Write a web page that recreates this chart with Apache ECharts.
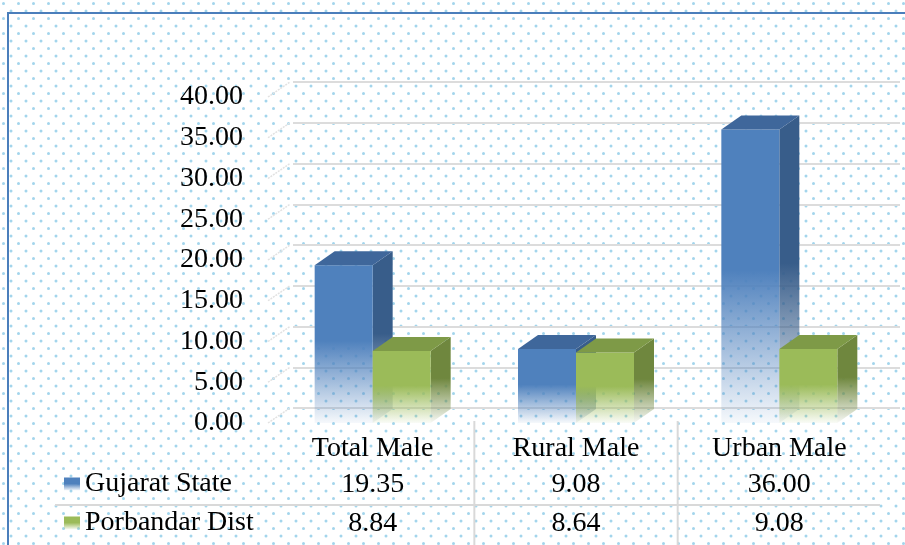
<!DOCTYPE html>
<html>
<head>
<meta charset="utf-8">
<script src="https://cdn.jsdelivr.net/npm/echarts@6/dist/echarts.min.js"></script>
<style>
  html, body { margin: 0; padding: 0; }
  #chart { width: 905px; height: 545px; }
</style>
</head>
<body>
<div id="chart"></div>
<script>
(function () {

    var categories = ['Total Male', 'Rural Male', 'Urban Male'];
    var seriesNames = ['Gujarat State', 'Porbandar Dist'];
    var gujarat = [19.35, 9.08, 36.00];
    var porbandar = [8.84, 8.64, 9.08];
    var yTicks = [0, 5, 10, 15, 20, 25, 30, 35, 40];

    var FONT = '"Liberation Serif", "Times New Roman", serif';
    var BAR_W = 58, DX = 20, DY = 14;

    // dotted background tile
    var tile = document.createElement('canvas');
    tile.width = 15; tile.height = 15;
    var ctx = tile.getContext('2d');
    ctx.fillStyle = '#ffffff';
    ctx.fillRect(0, 0, 15, 15);
    ctx.fillStyle = '#a3d5ec';
    [[3.5, 3.5], [11, 11]].forEach(function (p) {
        ctx.beginPath();
        ctx.arc(p[0], p[1], 1.5, 0, Math.PI * 2);
        ctx.fill();
    });

    function fade(color) {
        return new echarts.graphic.LinearGradient(0, 0, 0, 1, [
            { offset: 0, color: color },
            { offset: 0.48, color: color },
            { offset: 1, color: echarts.color.modifyAlpha(color, 0.05) }
        ]);
    }

    var blue = { front: '#4f81bd', side: '#385d8a', top: '#3f679b' };
    var green = { front: '#9bbb59', side: '#6f873e', top: '#7e9a47' };

    function bar3d(offset, c) {
        return function (params, api) {
            var i = api.value(0), v = api.value(1);
            var top = api.coord([i, v]);
            var base = api.coord([i, 0]);
            var x0 = top[0] + offset, x1 = x0 + BAR_W;
            var y0 = top[1], y1 = base[1];
            return {
                type: 'group',
                children: [
                    { type: 'polygon', shape: { points: [[x1, y0], [x1 + DX, y0 - DY], [x1 + DX, y1 - DY], [x1, y1]] },
                      style: { fill: fade(c.side) } },
                    { type: 'rect', shape: { x: x0, y: y0, width: BAR_W, height: y1 - y0 },
                      style: { fill: fade(c.front) } },
                    { type: 'polygon', shape: { points: [[x0, y0], [x0 + DX, y0 - DY], [x1 + DX, y0 - DY], [x1, y0]] },
                      style: { fill: c.top } }
                ]
            };
        };
    }

    function legendFor(name, top) {
        return {
            data: [name],
            left: 64,
            top: top,
            padding: 0,
            icon: 'rect',
            itemWidth: 16,
            itemHeight: 13,
            itemTextGap: 6,
            selectedMode: false,
            textStyle: { fontFamily: FONT, fontSize: 28, color: '#000', lineHeight: 28 }
        };
    }

    var option = {
        animation: false,
        graphic: [
            { type: 'rect', z: -10, silent: true, shape: { x: 0, y: 0, width: 905, height: 545 },
              style: { fill: { image: tile, repeat: 'repeat' } } },
            { type: 'rect', z: -9, shape: { x: 8, y: 13, width: 1000, height: 1000 },
              style: { fill: 'none', stroke: '#4a7ebb', lineWidth: 2 } },
            { type: 'line', shape: { x1: 55, y1: 505, x2: 880, y2: 505 },
              style: { stroke: '#d9d9d9', lineWidth: 2 } }
        ],
        legend: [legendFor(seriesNames[0], 470), legendFor(seriesNames[1], 509)],
        grid: [
            { left: 271, right: 24, top: 97, bottom: 122 },
            { left: 293, right: 5, top: 82, bottom: 137 }
        ],
        xAxis: [
            {
                type: 'category',
                gridIndex: 0,
                data: categories,
                axisLine: { show: false },
                axisTick: { show: false },
                axisLabel: { fontFamily: FONT, fontSize: 28, color: '#000', margin: 12 }
            },
            { type: 'value', gridIndex: 1, min: 0, max: 1, show: false }
        ],
        yAxis: [
            {
                type: 'value',
                gridIndex: 0,
                min: 0, max: 40, interval: 5,
                axisLine: { show: false },
                axisTick: { show: false },
                splitLine: { show: false },
                axisLabel: {
                    fontFamily: FONT, fontSize: 28, color: '#000', margin: 28,
                    formatter: function (v) { return v.toFixed(2); }
                }
            },
            {
                type: 'value',
                gridIndex: 1,
                min: 0, max: 40, interval: 5,
                axisLine: { show: false },
                axisTick: { show: false },
                axisLabel: { show: false },
                splitLine: { lineStyle: { color: '#dcdcdc', width: 2 } }
            }
        ],
        series: [
            {
                // left wall diagonals
                type: 'custom',
                xAxisIndex: 0, yAxisIndex: 0,
                silent: true,
                data: yTicks.map(function (v) { return [0, v]; }),
                renderItem: function (params, api) {
                    var y = api.coord([0, api.value(1)])[1];
                    var x = params.coordSys.x - 3;
                    return { type: 'line', shape: { x1: x, y1: y, x2: x + 22, y2: y - 15 },
                             style: { stroke: '#e2e2e2', lineWidth: 1.5, lineDash: [2, 1] } };
                }
            },
            {
                name: seriesNames[0],
                type: 'custom',
                itemStyle: { color: fade(blue.front) },
                data: gujarat.map(function (v, i) { return [i, v]; }),
                renderItem: bar3d(-BAR_W, blue)
            },
            {
                name: seriesNames[1],
                type: 'custom',
                itemStyle: { color: fade(green.front) },
                data: porbandar.map(function (v, i) { return [i, v]; }),
                renderItem: bar3d(0, green)
            },
            {
                // data table under the axis
                type: 'custom',
                silent: true,
                data: categories.map(function (c, i) { return [i, gujarat[i], porbandar[i]]; }),
                renderItem: function (params, api) {
                    var i = api.value(0);
                    var cx = api.coord([i, 0])[0];
                    var bw = api.size([1, 0])[0];
                    var children = [
                        { type: 'text', style: { x: cx, y: 485, text: api.value(1).toFixed(2), align: 'center', verticalAlign: 'middle',
                          font: '28px ' + FONT, fill: '#000' } },
                        { type: 'text', style: { x: cx, y: 524, text: api.value(2).toFixed(2), align: 'center', verticalAlign: 'middle',
                          font: '28px ' + FONT, fill: '#000' } }
                    ];
                    if (i > 0) {
                        children.push({ type: 'line', shape: { x1: cx - bw / 2, y1: 421, x2: cx - bw / 2, y2: 545 },
                                        style: { stroke: '#d9d9d9', lineWidth: 2 } });
                    }
                    return { type: 'group', children: children };
                }
            }
        ]
    };

    var myChart = echarts.init(document.getElementById('chart'));
    myChart.setOption(option);

})();
</script>
</body>
</html>
